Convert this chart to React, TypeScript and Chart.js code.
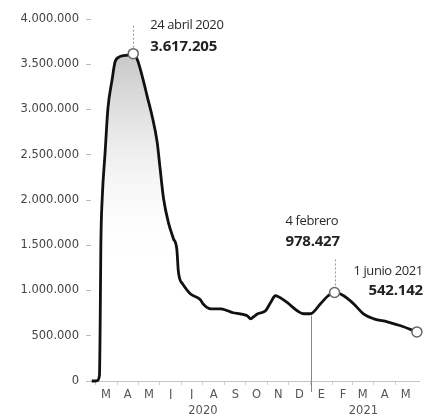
import React, { useEffect, useRef } from "react";
import { Chart, registerables } from "chart.js";

Chart.register(...registerables);

// Days counted from 1 March 2020
const dayOffsets = [
  -5, -1, 3, 6, 7, 8, 10, 14, 18, 24, 28, 34, 40, 46, 54, 60, 68, 74, 81, 88,
  92, 97, 104, 111, 116, 118, 120, 124, 135, 149, 154, 164, 178, 188, 196,
  206, 216, 221, 225, 231, 242, 249, 256, 263, 273, 287, 296, 306, 320, 331,
  340, 353, 367, 381, 396, 415, 434, 457,
];
const activeCases = [
  0, 0, 5000, 60000, 600000, 1500000, 2030000, 2520000, 3010000, 3330000,
  3520000, 3580000, 3595000, 3600000, 3617205, 3547000, 3330000, 3140000,
  2920000, 2640000, 2360000, 2020000, 1750000, 1575000, 1450000, 1220000,
  1130000, 1075000, 965000, 900000, 845000, 798000, 798000, 776000, 754000,
  743000, 720000, 687000, 710000, 743000, 776000, 865000, 942000, 920000,
  865000, 776000, 743000, 743000, 854000, 942000, 978427, 942000, 854000,
  743000, 687000, 654000, 610000, 542142,
];

const highlightDays = [54, 340, 457];
const highlightDates = ["24 abril 2020", "4 febrero", "1 junio 2021"];

const monthStartDays = [0, 31, 61, 92, 122, 153, 184, 214, 245, 275, 306, 337, 365, 396, 426];
const monthLabels = ["M", "A", "M", "J", "J", "A", "S", "O", "N", "D", "E", "F", "M", "A", "M"];
const yearCenterDays = [153, 381];
const yearLabels = ["2020", "2021"];
const yearBoundaryDay = 306;
const yTickValues = [0, 500000, 1000000, 1500000, 2000000, 2500000, 3000000, 3500000, 4000000];

const X_MIN = -6;
const X_MAX = 460;

function fmt(n: number): string {
  return Math.round(n).toString().replace(/\B(?=(\d{3})+(?!\d))/g, ".");
}

const annotationPlugin = {
  id: "annotations",
  afterDatasetsDraw(chart: any) {
    const ctx = chart.ctx;
    const xs = chart.scales.x;
    const ys = chart.scales.y;
    ctx.save();

    // year separator line
    const bIdx = dayOffsets.indexOf(yearBoundaryDay);
    const bx = Math.round(xs.getPixelForValue(yearBoundaryDay)) + 0.5;
    const by = ys.getPixelForValue(activeCases[bIdx]);
    ctx.strokeStyle = "#888";
    ctx.lineWidth = 1;
    ctx.beginPath();
    ctx.moveTo(bx, by + 2);
    ctx.lineTo(bx, ys.bottom + 11);
    ctx.stroke();

    const layouts = [
      { align: "left", dx: 17, dyDate: -28, dyVal: -7, lineTop: -28 },
      { align: "left", dx: -49, dyDate: -71, dyVal: -51, lineTop: -33 },
      { align: "right", dx: 6, dyDate: -61, dyVal: -41, lineTop: 0 },
    ];

    highlightDays.forEach((d, i) => {
      const idx = dayOffsets.indexOf(d);
      const px = xs.getPixelForValue(d);
      const py = ys.getPixelForValue(activeCases[idx]);
      const L = layouts[i];
      if (L.lineTop !== 0) {
        ctx.save();
        ctx.strokeStyle = "#999";
        ctx.lineWidth = 1;
        ctx.setLineDash([2, 2]);
        ctx.beginPath();
        ctx.moveTo(Math.round(px) + 0.5, py + L.lineTop);
        ctx.lineTo(Math.round(px) + 0.5, py - 5);
        ctx.stroke();
        ctx.restore();
      }
      ctx.textAlign = L.align;
      ctx.textBaseline = "middle";
      ctx.fillStyle = "#2a2a2a";
      (ctx as any).letterSpacing = "-0.4px";
      ctx.font = "13px 'Open Sans'";
      ctx.fillText(highlightDates[i], px + L.dx, py + L.dyDate);
      ctx.fillStyle = "#222";
      (ctx as any).letterSpacing = "-0.2px";
      ctx.font = "bold 15px 'Open Sans'";
      ctx.fillText(fmt(activeCases[idx]), px + L.dx, py + L.dyVal);
    });
    ctx.restore();
  },
};

export default function App() {
  const canvasRef = useRef<HTMLCanvasElement | null>(null);

  useEffect(() => {
    const canvas = canvasRef.current;
    if (!canvas) return;
    const tickFont = { family: "'DejaVu Sans'", size: 11.5 };

    const chart = new Chart(canvas, {
      type: "line",
      data: {
        datasets: [
          {
            data: dayOffsets.map((d, i) => ({ x: d, y: activeCases[i] })),
            borderColor: "#111",
            borderWidth: 2.8,
            cubicInterpolationMode: "monotone",
            fill: "origin",
            clip: 6,
            backgroundColor: (c: any) => {
              const ch = c.chart;
              const ys = ch.scales.y;
              if (!ch.chartArea || !ys) return "rgba(0,0,0,0)";
              const g = ch.ctx.createLinearGradient(0, ys.getPixelForValue(3700000), 0, ys.getPixelForValue(1300000));
              g.addColorStop(0, "rgba(175,175,175,0.75)");
              g.addColorStop(0.45, "rgba(220,220,220,0.55)");
              g.addColorStop(1, "rgba(255,255,255,0)");
              return g;
            },
            pointRadius: (c: any) => (highlightDays.includes(dayOffsets[c.dataIndex]) ? 5 : 0),
            pointHoverRadius: 0,
            pointBackgroundColor: "#fff",
            pointBorderColor: "#666",
            pointBorderWidth: 1.5,
          } as any,
        ],
      },
      options: {
        animation: false,
        responsive: true,
        maintainAspectRatio: false,
        events: [],
        layout: { padding: { top: 19, right: 16, bottom: 0, left: 0 } },
        plugins: { legend: { display: false }, tooltip: { enabled: false } },
        scales: {
          x: {
            type: "linear",
            position: "bottom",
            min: X_MIN,
            max: X_MAX,
            afterBuildTicks: (s: any) => {
              s.ticks = monthStartDays.map((v) => ({ value: v }));
            },
            afterFit: (s: any) => {
              s.height = 18;
            },
            grid: { display: true, drawOnChartArea: false, drawTicks: true, tickLength: 4, color: "#ccc" },
            border: { display: true, color: "#c4c4c4", width: 1 },
            ticks: {
              autoSkip: false,
              maxRotation: 0,
              padding: 3,
              labelOffset: 10.7,
              color: "#555",
              font: tickFont,
              callback: (_v: any, i: number) => monthLabels[i],
            },
          },
          x2: {
            type: "linear",
            position: "bottom",
            min: X_MIN,
            max: X_MAX,
            afterBuildTicks: (s: any) => {
              s.ticks = yearCenterDays.map((v) => ({ value: v }));
            },
            afterFit: (s: any) => {
              s.height = 20;
            },
            grid: { display: false, drawTicks: false },
            border: { display: false },
            ticks: {
              autoSkip: false,
              maxRotation: 0,
              padding: 5,
              color: "#555",
              font: tickFont,
              callback: (_v: any, i: number) => yearLabels[i],
            },
          },
          y: {
            min: 0,
            max: 4000000,
            afterBuildTicks: (s: any) => {
              s.ticks = yTickValues.map((v) => ({ value: v }));
            },
            afterFit: (s: any) => {
              s.width = 91;
            },
            grid: { display: true, drawOnChartArea: false, drawTicks: true, tickLength: 5, color: "#bbb" },
            border: { display: false },
            ticks: {
              padding: 7,
              color: "#444",
              font: tickFont,
              callback: (v: any) => fmt(Number(v)),
            },
          },
        },
      } as any,
      plugins: [annotationPlugin],
    });
    return () => chart.destroy();
  }, []);

  return (
    <div style={{ position: "fixed", left: 0, top: 0, width: 435, height: 419, background: "#fff" }}>
      <canvas ref={canvasRef} />
    </div>
  );
}
